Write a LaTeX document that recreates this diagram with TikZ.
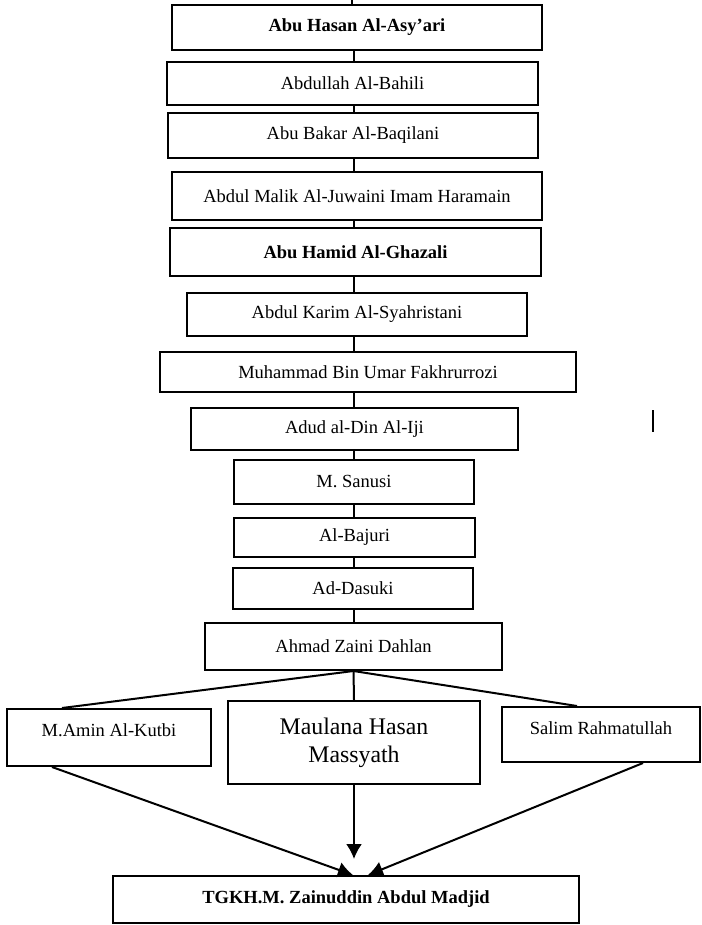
\documentclass[tikz,border=0pt]{standalone}
\usepackage{fontspec}
\setmainfont{Liberation Serif}
\usetikzlibrary{arrows.meta, positioning}

\tikzset{
    kotak/.style={draw, rectangle, line width=1pt, align=center, inner sep=2pt,
        font=\fontsize{9.25pt}{11pt}\selectfont},
    garis/.style={line width=1pt},
    panah/.style={line width=1pt, -{Latex[width=8pt, length=7.5pt]}}
}

\begin{document}
\begin{tikzpicture}[x=0.5pt, y=-0.5pt]
            \useasboundingbox (0,0) rectangle (701,925);
            % 1. Garis sanad utama
            \node[kotak, minimum width=185pt, minimum height=22.5pt] (asyari) at (357,27.5) {\textbf{Abu Hasan Al-Asy'ari}};
            \node[kotak, minimum width=185.5pt, minimum height=21.5pt] (bahili) at (352.5,83.5) {Abdullah Al-Bahili};
            \node[kotak, minimum width=185pt, minimum height=22.5pt] (baqilani) at (353,135.5) {Abu Bakar Al-Baqilani};
            \node[kotak, minimum width=185pt, minimum height=24pt] (juwaini) at (357,196) {Abdul Malik Al-Juwaini Imam Haramain};
            \node[kotak, minimum width=185.5pt, minimum height=24pt] (ghazali) at (355.5,252) {\textbf{Abu Hamid Al-Ghazali}};
            \node[kotak, minimum width=170pt, minimum height=21.5pt] (syahristani) at (357,314.5) {Abdul Karim Al-Syahristani};
            \node[kotak, minimum width=208pt, minimum height=20pt] (fakhrurrozi) at (368,372) {Muhammad Bin Umar Fakhrurrozi};
            \node[kotak, minimum width=163.5pt, minimum height=21pt] (iji) at (354.5,429) {Adud al-Din Al-Iji};
            \node[kotak, minimum width=120pt, minimum height=22pt] (sanusi) at (354,482) {M. Sanusi};
            \node[kotak, minimum width=120.5pt, minimum height=19.5pt] (bajuri) at (354.5,537.5) {Al-Bajuri};
            \node[kotak, minimum width=120pt, minimum height=20.5pt] (dasuki) at (353,588.5) {Ad-Dasuki};
            \node[kotak, minimum width=148.5pt, minimum height=23.5pt] (dahlan) at (353.5,646.5) {Ahmad Zaini Dahlan};

            % 2. Tiga murid
            \node[kotak, minimum width=102pt, minimum height=28.5pt, text depth=7.5pt] (kutbi) at (109,737.5) {M.Amin Al-Kutbi};
            \node[kotak, minimum width=126pt, minimum height=41.5pt,
                font=\fontsize{11.9pt}{14pt}\selectfont] (massyath) at (354,742.5) {Maulana Hasan\\Massyath};
            \node[kotak, minimum width=99pt, minimum height=27.5pt, text depth=6.5pt] (rahmatullah) at (601,734.5) {Salim Rahmatullah};

            % 3. Murid terakhir
            \node[kotak, minimum width=233pt, minimum height=23.5pt] (madjid) at (346,899.5) {\textbf{TGKH.M. Zainuddin Abdul Madjid}};

            % 4. Penghubung
            \coordinate (puncak) at (352,0);
            \coordinate (spine) at (354,0);
            \draw[garis] (puncak) -- (puncak |- asyari.north);
            \foreach \a/\b in {asyari/bahili, bahili/baqilani, baqilani/juwaini, juwaini/ghazali,
                ghazali/syahristani, syahristani/fakhrurrozi, fakhrurrozi/iji, iji/sanusi,
                sanusi/bajuri, bajuri/dasuki, dasuki/dahlan} {
                \draw[garis] (\a.south -| spine) -- (\b.north -| spine);
            }
            \draw[garis] (dahlan.south) -- ([xshift=-23.5pt]kutbi.north);
            \draw[garis] (dahlan.south) -- (massyath.north);
            \draw[garis] (dahlan.south) -- ([xshift=-12pt]rahmatullah.north);

            % 5. Panah ke bawah
            \draw[panah] ([xshift=-28.5pt]kutbi.south) -- ([xshift=3.5pt]madjid.north);
            \draw[panah] (massyath.south) -- ([xshift=4pt, yshift=8pt]madjid.north);
            \draw[panah] ([xshift=21pt]rahmatullah.south) -- ([xshift=11pt]madjid.north);

            % 6. Garis kecil di kanan
            \draw[garis] (653,410) -- (653,432);
        \end{tikzpicture}
\end{document}
